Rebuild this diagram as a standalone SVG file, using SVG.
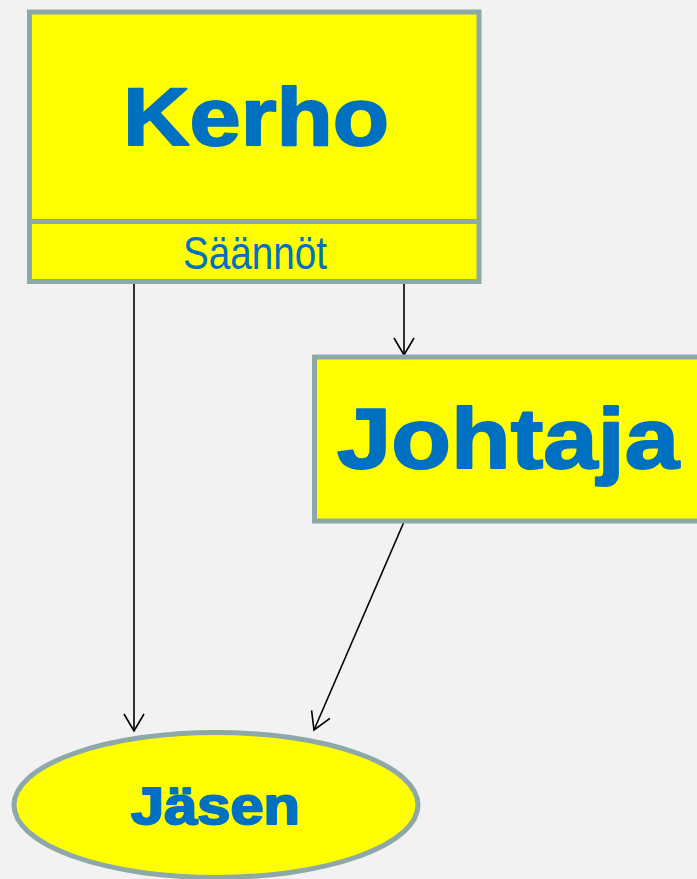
<svg xmlns="http://www.w3.org/2000/svg" width="697" height="879" viewBox="0 0 697 879">
<style>
.box{fill:#FFFF00;stroke:#8EA7A9;stroke-width:5}
.t{font-family:"Liberation Sans",Arial,sans-serif;fill:#0070C0}
.b{font-weight:bold;stroke:#0070C0;stroke-width:2;stroke-linejoin:round}
.edge{stroke:#000;stroke-width:1.6;fill:none}
</style>
<defs>
<marker id="arr" markerUnits="userSpaceOnUse" viewBox="-20 -12 22 24" refX="0" refY="0" markerWidth="22" markerHeight="24" orient="auto">
<path d="M-17,-10 L0,0 L-17,10" fill="none" stroke="#000" stroke-width="1.6"/>
</marker>
</defs>
<rect width="697" height="879" fill="#F2F2F2"/>
<g id="connectors">
<line class="edge" x1="134" y1="284" x2="134" y2="731" marker-end="url(#arr)"/>
<line class="edge" x1="404" y1="284" x2="404" y2="355" marker-end="url(#arr)"/>
<line class="edge" x1="403.5" y1="523" x2="314" y2="730" marker-end="url(#arr)"/>
</g>
<g id="kerho">
<rect class="box" x="29.5" y="12" width="449.5" height="269.5"/>
<line x1="29.5" y1="221.5" x2="479" y2="221.5" stroke="#8EA7A9" stroke-width="5"/>
<text class="t b" x="123" y="145" font-size="82" textLength="266" lengthAdjust="spacingAndGlyphs">Kerho</text>
<text class="t" x="183" y="269" font-size="46" textLength="144" lengthAdjust="spacingAndGlyphs">Säännöt</text>
</g>
<g id="johtaja">
<rect class="box" x="314.5" y="357" width="400" height="164"/>
<text class="t b" x="337" y="468" font-size="85" textLength="342" lengthAdjust="spacingAndGlyphs">Johtaja</text>
</g>
<g id="jasen">
<ellipse class="box" cx="216" cy="805" rx="202" ry="72.5"/>
<text class="t b" x="131" y="824" font-size="51" textLength="169" lengthAdjust="spacingAndGlyphs">Jäsen</text>
</g>
</svg>
